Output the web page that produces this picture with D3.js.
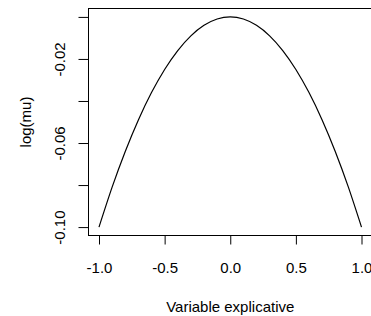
<!DOCTYPE html>
<html>
<head>
<meta charset="utf-8">
<script src="https://cdn.jsdelivr.net/npm/d3@7"></script>
<style>
  html, body { margin: 0; padding: 0; background: #fff; }
  svg { display: block; }
  text { font-family: "Liberation Sans", Arial, sans-serif; font-size: 15px; fill: #000; }
</style>
</head>
<body>
<div id="vis"></div>
<script>
// values
const xValues = [-1.0, -0.9, -0.8, -0.7, -0.6, -0.5, -0.4, -0.3, -0.2, -0.1, 0.0,
  0.1, 0.2, 0.3, 0.4, 0.5, 0.6, 0.7, 0.8, 0.9, 1.0]
const logMu = [-0.100, -0.081, -0.064, -0.049, -0.036, -0.025, -0.016, -0.009, -0.004, -0.001, 0.000,
  -0.001, -0.004, -0.009, -0.016, -0.025, -0.036, -0.049, -0.064, -0.081, -0.100]
const xTicks = [-1.0, -0.5, 0.0, 0.5, 1.0]
const yTicks = [0.00, -0.02, -0.04, -0.06, -0.08, -0.10]
const yLabelled = ['-0.02', '-0.06', '-0.10']
const xTitle = 'Variable explicative'
const yTitle = 'log(mu)'

const width = 371,
  height = 316
const box = { left: 88.5, right: 372, top: 8.5, bottom: 235.5 }

const svg = d3.select('#vis')
  .append('svg')
  .attr('width', width)
  .attr('height', height)

// R style: range padded by 4% on each side
const x = d3.scaleLinear().domain([-1.08, 1.08]).range([box.left, box.right])
const y = d3.scaleLinear().domain([-0.104, 0.004]).range([box.bottom, box.top])

// curve
const line = d3.line()
  .x((d, i) => x(xValues[i]))
  .y((d) => y(d))
  .curve(d3.curveNatural)

svg.append('path')
  .datum(logMu)
  .attr('d', line)
  .attr('fill', 'none')
  .attr('stroke', '#000')
  .attr('stroke-width', 1.2)

// x axis
const gx = svg.append('g')
  .attr('transform', 'translate(0,' + box.bottom + ')')
  .call(d3.axisBottom(x).tickValues(xTicks).tickSize(9).tickFormat(d3.format('.1f')))
gx.select('.domain').remove()
gx.selectAll('line').attr('stroke', '#000')
gx.selectAll('text')
  .attr('y', 37)
  .attr('dy', 0)
  .text((d) => d3.format('.1f')(d).replace('−', '-'))

// y axis, only every other label drawn like R does
const gy = svg.append('g')
  .attr('transform', 'translate(' + box.left + ',0)')
  .call(d3.axisLeft(y).tickValues(yTicks).tickSize(10).tickFormat((d) => {
    const s = d3.format('.2f')(d).replace('−', '-')
    return yLabelled.includes(s) ? s : ''
  }))
gy.select('.domain').remove()
gy.selectAll('line').attr('stroke', '#000')
gy.selectAll('text')
  .attr('transform', 'rotate(-90)')
  .attr('x', 0)
  .attr('y', -23.5)
  .attr('dy', 0)
  .attr('text-anchor', 'middle')

// frame
svg.append('rect')
  .attr('x', box.left)
  .attr('y', box.top)
  .attr('width', box.right - box.left)
  .attr('height', box.bottom - box.top)
  .attr('fill', 'none')
  .attr('stroke', '#000')
  .attr('stroke-width', 1)

// titles
svg.append('text')
  .attr('x', (box.left + box.right) / 2)
  .attr('y', 311.5)
  .attr('text-anchor', 'middle')
  .text(xTitle)

svg.append('text')
  .attr('transform', 'translate(31,' + (box.top + box.bottom) / 2 + ')rotate(-90)')
  .attr('text-anchor', 'middle')
  .text(yTitle)
</script>
</body>
</html>
